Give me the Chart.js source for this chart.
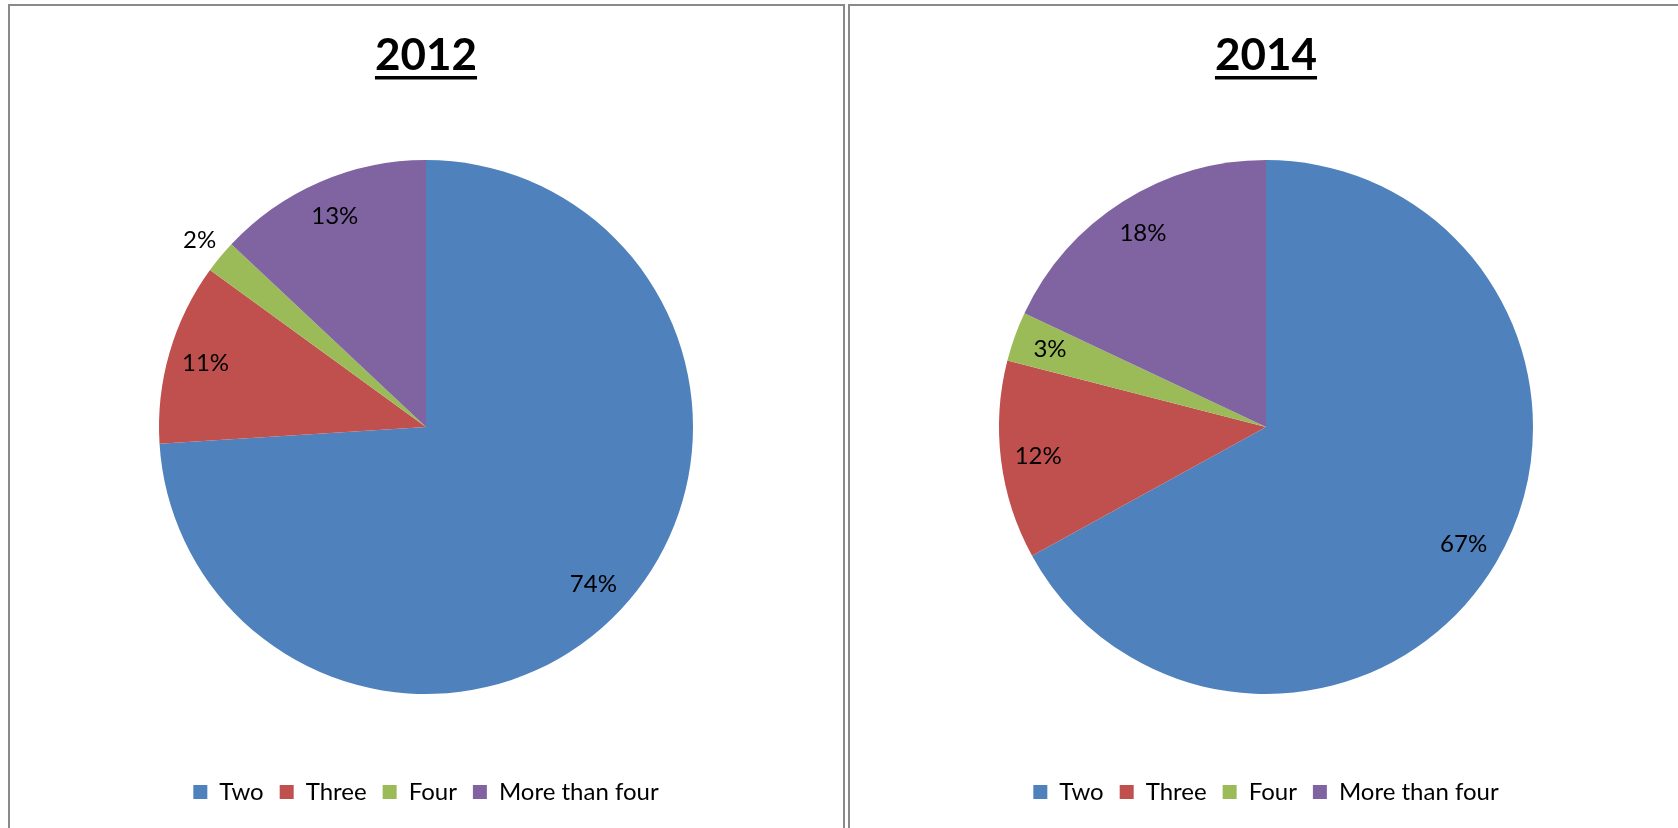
<!DOCTYPE html>
<html><head><meta charset="utf-8">
<script src="https://cdn.jsdelivr.net/npm/chart.js@4.4.0/dist/chart.umd.min.js"></script>
<style>
html,body{margin:0;padding:0;background:#fff;width:1678px;height:828px;overflow:hidden;}
.panel{position:absolute;top:4px;height:840px;border-top:2px solid #8a8a8a;border-left:2px solid #8a8a8a;box-sizing:border-box;}
#p1{left:8px;width:837px;border-right:2px solid #8a8a8a;}
#p2{left:848px;width:840px;}
canvas{position:absolute;top:6px;}
#c1{left:10px;}
#c2{left:850px;}
</style></head>
<body>
<div class="panel" id="p1"></div>
<div class="panel" id="p2"></div>
<canvas id="c1" width="833" height="822"></canvas>
<canvas id="c2" width="828" height="822"></canvas>
<script>
const categories = ["Two", "Three", "Four", "More than four"];
const values2012 = [74, 11, 2, 13];
const values2014 = [67, 12, 3, 18];
const title2012 = "2012";
const title2014 = "2014";
const sliceColors = ["#4F81BD", "#C0504D", "#9BBB59", "#8064A2"];

const labelPlugin = {
  id: 'pctLabels',
  afterDatasetsDraw(chart) {
    const ctx = chart.ctx;
    const meta = chart.getDatasetMeta(0);
    const data = chart.data.datasets[0].data;
    const total = data.reduce((a, b) => a + b, 0);
    ctx.save();
    ctx.font = '24px Lato';
    ctx.fillStyle = '#000';
    ctx.textAlign = 'center';
    ctx.textBaseline = 'middle';
    meta.data.forEach((arc, i) => {
      const p = arc.getProps(['x', 'y', 'startAngle', 'endAngle', 'outerRadius'], true);
      const mid = (p.startAngle + p.endAngle) / 2;
      const txt = Math.round(data[i] / total * 100) + '%';
      const w = ctx.measureText(txt).width;
      let r = p.outerRadius * 0.86;
      if ((p.endAngle - p.startAngle) * r < w + 4) r = p.outerRadius * 1.1;
      ctx.fillText(txt, p.x + Math.cos(mid) * r, p.y + Math.sin(mid) * r);
    });
    ctx.restore();
  }
};

const underlinePlugin = {
  id: 'titleUnderline',
  afterDraw(chart) {
    const tb = chart.titleBlock;
    if (!tb) return;
    const o = tb.options;
    const ctx = chart.ctx;
    ctx.save();
    ctx.font = 'bold ' + o.font.size + 'px Lato';
    const w = ctx.measureText(o.text).width;
    const cx = (tb.left + tb.right) / 2;
    const cy = tb.top + o.padding.top + o.font.size * 1.2 / 2;
    ctx.fillStyle = '#000';
    ctx.fillRect(cx - w / 2, cy + 20, w, 3.5);
    ctx.restore();
  }
};

function makePie(id, title, values, padRight) {
  return new Chart(document.getElementById(id), {
    type: 'pie',
    data: {
      labels: categories,
      datasets: [{ data: values, backgroundColor: sliceColors, borderWidth: 0 }]
    },
    options: {
      responsive: false,
      animation: false,
      layout: { padding: { left: 149, right: padRight, top: 0, bottom: 14 } },
      plugins: {
        title: {
          display: true, text: title, color: '#000',
          font: { family: 'Lato', size: 44, weight: 'bold', lineHeight: 1.2 },
          padding: { top: 23.6, bottom: 7.6 }
        },
        legend: {
          position: 'bottom',
          labels: {
            color: '#000', boxWidth: 14, boxHeight: 14, padding: 16,
            font: { family: 'Lato', size: 24 }
          }
        },
        tooltip: { enabled: false }
      }
    },
    plugins: [labelPlugin, underlinePlugin]
  });
}

makePie('c1', title2012, values2012, 150);
makePie('c2', title2014, values2014, 145);
</script>
</body></html>
